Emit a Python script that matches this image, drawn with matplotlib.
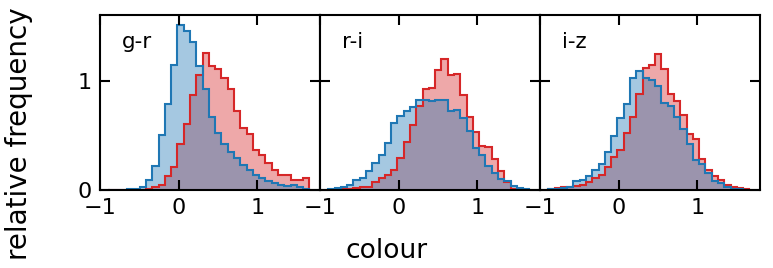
import numpy as np
import matplotlib
matplotlib.use("Agg")
import matplotlib.pyplot as plt

# common bin edges (width 0.08)
bin_start = -0.895
bin_width = 0.08
n_bins = 32
edges = bin_start + bin_width * np.arange(n_bins + 1)

colours = ["g-r", "r-i", "i-z"]

# relative frequency per bin
blue_gr = [0.002, 0.003, 0.003, 0.006, 0.01, 0.03, 0.09, 0.22, 0.50, 0.79, 1.14, 1.51,
           1.45, 1.35, 1.13, 0.92, 0.67, 0.52, 0.42, 0.35, 0.29, 0.23, 0.18, 0.14,
           0.11, 0.08, 0.067, 0.045, 0.036, 0.042, 0.027, 0.012]
red_gr = [0.0, 0.0, 0.0, 0.0, 0.0, 0.0, 0.01, 0.03, 0.05, 0.13, 0.21, 0.42,
          0.60, 0.87, 1.05, 1.25, 1.13, 1.11, 1.02, 0.92, 0.72, 0.57, 0.51, 0.37,
          0.32, 0.25, 0.18, 0.14, 0.14, 0.09, 0.09, 0.11]

blue_ri = [0.006, 0.015, 0.03, 0.05, 0.09, 0.11, 0.17, 0.25, 0.32, 0.43, 0.61, 0.68,
           0.72, 0.76, 0.82, 0.82, 0.81, 0.82, 0.82, 0.72, 0.73, 0.66, 0.54, 0.38,
           0.32, 0.22, 0.16, 0.10, 0.08, 0.04, 0.02, 0.012]
red_ri = [0.0, 0.003, 0.005, 0.01, 0.015, 0.025, 0.03, 0.07, 0.11, 0.14, 0.18, 0.29,
          0.44, 0.59, 0.77, 0.92, 0.93, 1.10, 1.20, 1.05, 1.06, 0.87, 0.67, 0.53,
          0.40, 0.39, 0.28, 0.17, 0.07, 0.012, 0.005, 0.0]

blue_iz = [0.006, 0.01, 0.02, 0.03, 0.08, 0.09, 0.13, 0.18, 0.24, 0.35, 0.49, 0.66,
           0.79, 1.02, 1.09, 1.02, 1.01, 0.95, 0.80, 0.77, 0.67, 0.56, 0.42, 0.27,
           0.24, 0.16, 0.08, 0.067, 0.03, 0.012, 0.006, 0.004]
red_iz = [0.012, 0.015, 0.025, 0.03, 0.04, 0.05, 0.07, 0.11, 0.14, 0.21, 0.30, 0.37,
          0.52, 0.67, 0.88, 1.12, 1.14, 1.24, 1.11, 0.88, 0.81, 0.69, 0.51, 0.47,
          0.28, 0.18, 0.13, 0.09, 0.05, 0.03, 0.015, 0.005]

blue_all = [blue_gr, blue_ri, blue_iz]
red_all = [red_gr, red_ri, red_iz]

blue = "#1f77b4"
red = "#d62728"

fig, axes = plt.subplots(1, 3, figsize=(7.73, 2.68), dpi=100, sharey=True)
fig.subplots_adjust(left=0.1294, right=0.9832, top=0.944, bottom=0.291, wspace=0)

for ax, name, b, r in zip(axes, colours, blue_all, red_all):
    ax.stairs(r, edges, fill=True, color=red, alpha=0.4, lw=0)
    ax.stairs(b, edges, fill=True, color=blue, alpha=0.4, lw=0)
    ax.stairs(r, edges, color=red, lw=1.5)
    ax.stairs(b, edges, color=blue, lw=1.5)
    ax.set_xlim(-1, 1.8)
    ax.set_ylim(0, 1.6)
    ax.set_xticks([-1, 0, 1])
    ax.set_yticks([0, 1])
    ax.tick_params(direction="in", top=True, right=True, length=7, width=1.5,
                   labelsize=16, pad=6)
    for s in ax.spines.values():
        s.set_linewidth(1.5)
    ax.text(0.10, 0.845, name, transform=ax.transAxes, fontsize=15.5, va="center")

fig.text(0.024, 0.5, "relative frequency", rotation=90, va="center", ha="center",
         fontsize=20)
fig.text(0.5, 0.065, "colour", ha="center", va="center", fontsize=19)

fig.savefig("out.png", dpi=100)
